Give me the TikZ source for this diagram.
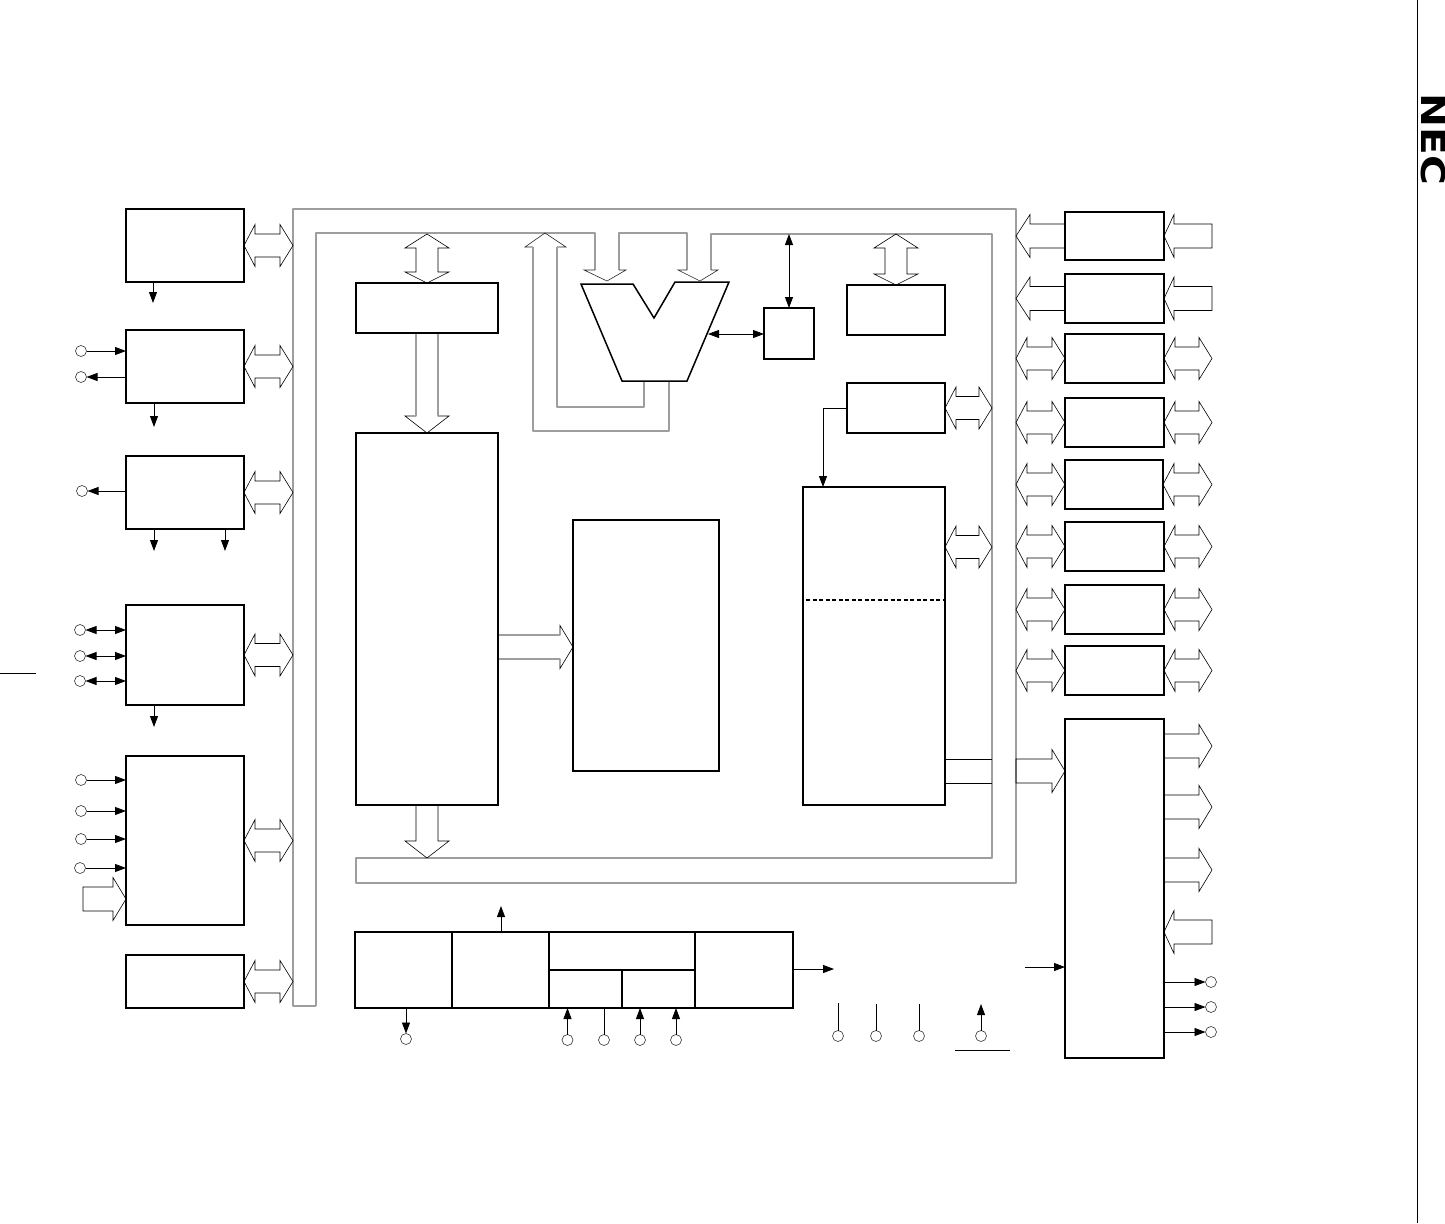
\documentclass[tikz,border=0pt]{standalone}
\usepackage{fontspec}
\setmainfont{Liberation Sans}
\newfontfamily\logofont{DejaVu Sans}
\usetikzlibrary{arrows.meta,calc}
\definecolor{busgray}{RGB}{158,158,158}

% Fat bus arrows, tip to tip or tail to tip.
\newcommand{\hdbl}[2]{\draw[fat] (#1) -- ++(11,-21) -- ++(0,9.5) -- ($(#2)+(-13,-11.5)$) -- ++(0,-9.5)
  -- (#2) -- ++(-13,21) -- ++(0,-9.5) -- ($(#1)+(11,11.5)$) -- ++(0,9.5) -- cycle;}
\newcommand{\vdbl}[2]{\draw[fat] (#1) -- ++(-22,14) -- ++(11,0) -- ($(#2)+(-11,-11)$) -- ++(-11,0)
  -- (#2) -- ++(22,-11) -- ++(-11,0) -- ($(#1)+(11,14)$) -- ++(11,0) -- cycle;}
\newcommand{\rfat}[2]{\draw[fat] (#1) ++(0,-12) -- ($(#2)+(-13,-12)$) -- ++(0,-9.5) -- (#2)
  -- ++(-13,21.5) -- ++(0,-9.5) -- ($(#1)+(0,12)$) -- cycle;}
\newcommand{\lfat}[3][13]{\draw[fat] (#2) ++(0,-12) -- ($(#3)+(#1,-12)$) -- ++(0,-9.5) -- (#3)
  -- ++(#1,21.5) -- ++(0,-9.5) -- ($(#2)+(0,12)$) -- cycle;}
\newcommand{\dfat}[2]{\draw[fat] (#1) ++(-11,0) -- ($(#2)+(-11,-17)$) -- ++(-11,0) -- (#2)
  -- ++(22,-17) -- ++(-11,0) -- ($(#1)+(11,0)$) -- cycle;}

\begin{document}
\begin{tikzpicture}[
  x=1pt, y=-1pt,
  box/.style={draw=black, line width=1.5pt, fill=none, inner sep=0pt, outer sep=0pt},
  padring/.style={circle, draw=black!80, line width=0.6pt, minimum size=11pt, inner sep=0pt, outer sep=0pt},
  bus/.style={draw=busgray, line width=1.2pt, line join=round},
  fat/.style={draw=black, line width=0.6pt, line join=miter},
  fathead/.style={draw=black!85, line width=0.6pt},
  sig/.style={-{Stealth[length=11pt,width=8pt,inset=0pt]}, line width=0.8pt, draw=black},
  dsig/.style={{Stealth[length=11pt,width=8pt,inset=0pt]}-{Stealth[length=11pt,width=8pt,inset=0pt]}, line width=0.8pt, draw=black},
  wire/.style={line width=0.8pt, draw=black}
]
\useasboundingbox (0,0) rectangle (1445,1223);

% Page furniture.
\draw[line width=0.8pt] (1417,0) -- (1417,1223);
\draw[line width=0.8pt] (0,673) -- (36,673);
\node[rotate=-90, inner sep=0pt] (logo) at (1433,139.5)
  {\logofont\fontsize{33}{33}\selectfont\bfseries\scalebox{1.23}[1]{NEC}};

% Internal bus.
\draw[bus] (316,1006) -- (293,1006) -- (293,209) -- (1016,209) -- (1016,883) -- (356,883)
  -- (356,858) -- (992,858) -- (992,234) -- (711,234) -- (711,270);
\draw[bus] (687,270) -- (687,233) -- (619,233) -- (619,270);
\draw[bus] (595,270) -- (595,233) -- (316,233) -- (316,1006);
\draw[fathead] (711,270) -- (718,270) -- (700,281) -- (678,270) -- (687,270);
\draw[fathead] (619,270) -- (626,270) -- (607,281) -- (584,270) -- (595,270);
\draw[fathead] (533,247) -- (525,247) -- (545,233) -- (566,247) -- (557,247);
\draw[bus] (533,247) -- (533,431) -- (669,431) -- (669,381);
\draw[bus] (557,247) -- (557,407) -- (644,407) -- (644,381);

\coordinate (busl) at (293,209);
\coordinate (busi) at (992,234);
\coordinate (busr) at (1016,209);
\coordinate (exto) at (1212,209);

% Left column.
\node[box, minimum width=118, minimum height=73]  (tma)  at (185,245.5) {};
\node[box, minimum width=118, minimum height=73]  (tmb)  at (185,366.5) {};
\node[box, minimum width=118, minimum height=73]  (tmc)  at (185,492.5) {};
\node[box, minimum width=118, minimum height=100] (sio)  at (185,655) {};
\node[box, minimum width=118, minimum height=169] (intc) at (185,840.5) {};
\node[box, minimum width=118, minimum height=53]  (wdt)  at (185,981.5) {};

\hdbl{tma.east}{tma.east -| busl}
\hdbl{tmb.east}{tmb.east -| busl}
\hdbl{tmc.east}{tmc.east -| busl}
\hdbl{sio.east}{sio.east -| busl}
\hdbl{intc.east}{intc.east -| busl}
\hdbl{wdt.east}{wdt.east -| busl}

\coordinate (tmaout) at (153,303);
\coordinate (tmbout) at (154,427);
\coordinate (tmcouta) at (154,551);
\coordinate (tmcoutb) at (225,551);
\coordinate (sioout) at (154,727);
\draw[sig] (tmaout |- tma.south) -- (tmaout);
\draw[sig] ($(tmbout |- tmb.south)+(0,1)$) -- (tmbout);
\draw[sig] (tmcouta |- tmc.south) -- (tmcouta);
\draw[sig] (tmcoutb |- tmc.south) -- (tmcoutb);
\draw[sig] (sioout |- sio.south) -- (sioout);

\node[padring] (ti)   at (81,351) {};
\node[padring] (to)   at (81,377) {};
\node[padring] (tout) at (82,491) {};
\node[padring] (sia)  at (80,630) {};
\node[padring] (sib)  at (80,656) {};
\node[padring] (sic)  at (80,681) {};
\node[padring] (inta) at (81,780) {};
\node[padring] (intb) at (81,811) {};
\node[padring] (intd) at (81,839) {};
\node[padring] (inte) at (80,868) {};
\draw[sig]  (ti) -- (ti -| tmb.west);
\draw[sig]  (to -| tmb.west) -- (to);
\draw[sig]  (tout -| tmc.west) -- (tout);
\draw[dsig] (sia) -- (sia -| sio.west);
\draw[dsig] (sib) -- (sib -| sio.west);
\draw[dsig] (sic) -- (sic -| sio.west);
\draw[sig]  (inta) -- (inta -| intc.west);
\draw[sig]  (intb) -- (intb -| intc.west);
\draw[sig]  (intd) -- (intd -| intc.west);
\draw[sig]  (inte) -- (inte -| intc.west);
\coordinate (intport) at (83,899);
\rfat{intport}{intport -| intc.west}

% Program side.
\node[box, minimum width=142, minimum height=50]  (iq)   at (427,308) {};
\node[box, minimum width=142, minimum height=372] (rom)  at (427,619) {};
\node[box, minimum width=146, minimum height=251] (regs) at (646,645.5) {};
\vdbl{iq.north |- busi}{iq.north}
\dfat{iq.south}{rom.north}
\draw[bus] ($(iq.south)+(-11,1)$) -- ($(rom.north)+(-11,-17)$);
\draw[bus] ($(iq.south)+(11,1)$) -- ($(rom.north)+(11,-17)$);
\dfat{rom.south}{rom.south |- 0,858}
\coordinate (regsport) at (498,647);
\rfat{regsport}{regsport -| regs.west}
\draw[bus] ($(regsport)+(1,-12)$) -- ($(regsport -| regs.west)+(-13,-12)$);
\draw[bus] ($(regsport)+(1,12)$) -- ($(regsport -| regs.west)+(-13,12)$);

% ALU and its neighbour.
\draw[box] (581,284) -- (633,284) -- (654,318) -- (675,282) -- (729,282) -- (687,381) -- (622,381) -- cycle;
\coordinate (aluport) at (708,334);
\node[box, minimum width=50, minimum height=51] (mul) at (789,333.5) {};
\draw[dsig] (mul.west |- aluport) -- (aluport);
\draw[dsig] (mul.north |- busi) -- (mul.north);

% Data side.
\node[box, minimum width=98, minimum height=50]  (ctla) at (896,310) {};
\node[box, minimum width=98, minimum height=50]  (ctlb) at (896,408) {};
\node[box, minimum width=142, minimum height=318] (ram) at (874,646) {};
\vdbl{ctla.north |- busi}{ctla.north}
\hdbl{ctlb.east}{ctlb.east -| busi}
\coordinate (ramport) at (945,547);
\hdbl{ramport}{ramport -| busi}
\coordinate (ramcor) at (823,408);
\draw[wire] (ctlb.west) -- (ramcor);
\draw[sig] (ramcor) -- (ramcor |- ram.north);
\draw[line width=1.2pt, dash pattern=on 4pt off 2.5pt] ($(ram.west)+(3,-46)$) -- ($(ram.east)+(0,-46)$);
\coordinate (ramla) at (945,759);
\coordinate (ramlb) at (945,783);
\draw[wire] (ramla) -- (ramla -| busi);
\draw[wire] (ramlb) -- (ramlb -| busi);

% Bottom row.
\node[box, minimum width=97, minimum height=76]  (cga) at (403.5,970) {};
\node[box, minimum width=97, minimum height=76]  (cgb) at (500.5,970) {};
\node[box, minimum width=146, minimum height=38] (cgc) at (622,951) {};
\node[box, minimum width=73, minimum height=38]  (cgd) at (585.5,989) {};
\node[box, minimum width=73, minimum height=38]  (cge) at (658.5,989) {};
\node[box, minimum width=98, minimum height=76]  (cgf) at (744,970) {};

\coordinate (cgbout) at (501,906);
\coordinate (cgfout) at (834,969);
\draw[sig] (cgbout |- cgb.north) -- (cgbout);
\draw[sig] (cgfout -| cgf.east) -- (cgfout);

\node[padring] (pa) at (406,1039) {};
\node[padring] (pb) at (567.5,1040) {};
\node[padring] (pc) at (604,1040) {};
\node[padring] (pd) at (640,1040) {};
\node[padring] (pe) at (676,1040) {};
\draw[sig]  (pa |- cga.south) -- (pa);
\draw[sig]  (pb) -- (pb |- cgd.south);
\draw[wire] (pc) -- (pc |- cgd.south);
\draw[sig]  (pd) -- (pd |- cge.south);
\draw[sig]  (pe) -- (pe |- cge.south);

\node[padring] (vdd)  at (838,1036) {};
\node[padring] (vss)  at (876,1036) {};
\node[padring] (vpp)  at (919,1036) {};
\node[padring] (rst)  at (981,1036) {};
\coordinate (vddtop) at (838,1003);
\coordinate (vsstop) at (876,1004);
\coordinate (vpptop) at (919,1004);
\coordinate (rsttop) at (981,1004);
\draw[wire] (vdd) -- (vddtop);
\draw[wire] (vss) -- (vsstop);
\draw[wire] (vpp) -- (vpptop);
\draw[sig]  (rst) -- (rsttop);
\draw[line width=0.8pt] (955,1050) coordinate (barl) -- (1010,1050) coordinate (barr);

% Right column.
\node[box, minimum width=99, minimum height=48]  (pta) at (1114.5,236) {};
\node[box, minimum width=99, minimum height=49]  (ptb) at (1114.5,298.5) {};
\node[box, minimum width=99, minimum height=49]  (ptc) at (1114.5,358.5) {};
\node[box, minimum width=99, minimum height=49]  (ptd) at (1114.5,422.5) {};
\node[box, minimum width=98, minimum height=49]  (pte) at (1114,484.5) {};
\node[box, minimum width=99, minimum height=49]  (ptf) at (1114.5,546.5) {};
\node[box, minimum width=99, minimum height=49]  (ptg) at (1114.5,609.5) {};
\node[box, minimum width=99, minimum height=49]  (pth) at (1114.5,670.5) {};
\node[box, minimum width=99, minimum height=339] (bcu) at (1114.5,888.5) {};

\lfat[14]{pta.west}{pta.west -| busr}
\lfat[14]{ptb.west}{ptb.west -| busr}
\lfat[10]{pta.east -| exto}{pta.east}
\lfat[10]{ptb.east -| exto}{ptb.east}
\hdbl{ptc.west -| busr}{ptc.west}
\hdbl{ptd.west -| busr}{ptd.west}
\hdbl{pte.west -| busr}{pte.west}
\hdbl{ptf.west -| busr}{ptf.west}
\hdbl{ptg.west -| busr}{ptg.west}
\hdbl{pth.west -| busr}{pth.west}
\hdbl{ptc.east}{ptc.east -| exto}
\hdbl{ptd.east}{ptd.east -| exto}
\hdbl{pte.east}{pte.east -| exto}
\hdbl{ptf.east}{ptf.east -| exto}
\hdbl{ptg.east}{ptg.east -| exto}
\hdbl{pth.east}{pth.east -| exto}

\coordinate (bcuin) at (1016,771);
\rfat{bcuin}{bcuin -| bcu.west}
\coordinate (bcua) at (1164,746);
\coordinate (bcub) at (1164,807);
\coordinate (bcuc) at (1164,870);
\coordinate (bcud) at (1212,932);
\rfat{bcua}{bcua -| exto}
\rfat{bcub}{bcub -| exto}
\rfat{bcuc}{bcuc -| exto}
\lfat[10]{bcud}{bcud -| bcu.east}

\coordinate (bcuctl) at (1025,967);
\draw[sig] (bcuctl) -- (bcuctl -| bcu.west);

\node[padring] (oa) at (1211,982) {};
\node[padring] (ob) at (1211,1007) {};
\node[padring] (oc) at (1211,1032) {};
\draw[sig] (oa -| bcu.east) -- (oa);
\draw[sig] (ob -| bcu.east) -- (ob);
\draw[sig] (oc -| bcu.east) -- (oc);

\end{tikzpicture}
\end{document}
